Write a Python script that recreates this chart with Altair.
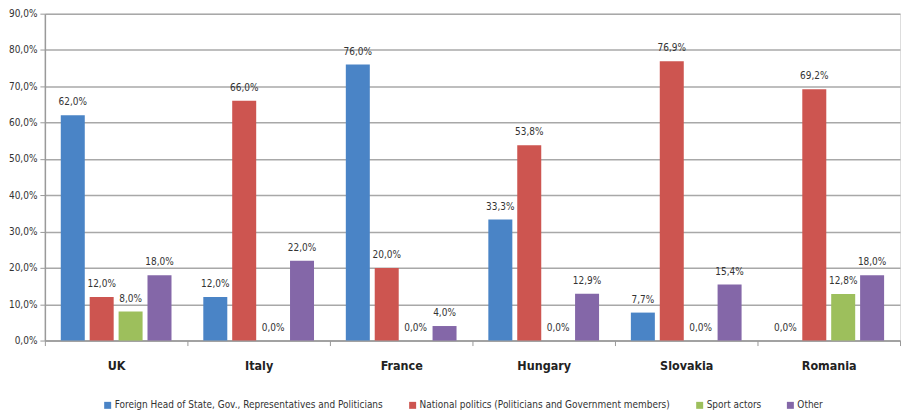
import altair as alt
import pandas as pd

countries = ["UK", "Italy", "France", "Hungary", "Slovakia", "Romania"]
series = [
    "Foreign Head of State, Gov., Representatives and Politicians",
    "National politics (Politicians and Government members)",
    "Sport actors",
    "Other",
]
foreign = [62.0, 12.0, 76.0, 33.3, 7.7, 0.0]
national = [12.0, 66.0, 20.0, 53.8, 76.9, 69.2]
sport = [8.0, 0.0, 0.0, 0.0, 0.0, 12.8]
other = [18.0, 22.0, 4.0, 12.9, 15.4, 18.0]
colors = ["#4a84c6", "#cd5550", "#9dbf5c", "#8467a8"]
y_ticks = [0, 10, 20, 30, 40, 50, 60, 70, 80, 90]

rows = []
for i, c in enumerate(countries):
    for s, vals in zip(series, [foreign, national, sport, other]):
        rows.append({"country": c, "series": s, "value": vals[i]})
df = pd.DataFrame(rows)

font = "DejaVu Sans Condensed, DejaVu Sans, sans-serif"

x = alt.X(
    "country:N",
    sort=countries,
    scale=alt.Scale(paddingInner=0, paddingOuter=0),
    axis=alt.Axis(
        title=None,
        labelAngle=0,
        labelFont=font,
        labelFontWeight="bold",
        labelFontSize=12.5,
        labelColor="#222222",
        labelPadding=14,
        tickBand="extent",
        tickSize=5,
        tickColor="#999999",
        domainColor="#9a9a9a",
        domainWidth=1.5,
        grid=False,
    ),
)
xo = alt.XOffset(
    "series:N", sort=series, scale=alt.Scale(paddingInner=0.17, paddingOuter=0.55)
)
y = alt.Y(
    "value:Q",
    scale=alt.Scale(domain=[0, 90], nice=False),
    axis=alt.Axis(
        title=None,
        values=y_ticks,
        labelExpr="replace(format(datum.value, '.1f'), '.', ',') + '%'",
        labelFont=font,
        labelFontSize=10,
        labelColor="#333333",
        labelPadding=3,
        tickSize=5,
        tickColor="#999999",
        domainColor="#9a9a9a",
        domainWidth=1.5,
        gridColor="#a8a8a8",
        gridWidth=1.5,
    ),
)
color = alt.Color(
    "series:N",
    sort=series,
    scale=alt.Scale(domain=series, range=colors),
    legend=alt.Legend(
        title=None,
        orient="none",
        legendX=58,
        legendY=388,
        direction="horizontal",
        symbolType="square",
        symbolSize=49,
        symbolStrokeWidth=0,
        labelFont=font,
        labelFontSize=10,
        labelColor="#333333",
        labelOffset=2,
        labelLimit=500,
        columnPadding=24,
    ),
)

base = alt.Chart(df)
bars = base.mark_bar().encode(x=x, xOffset=xo, y=y, color=color)
labels = (
    base.transform_calculate(
        label="replace(format(datum.value, '.1f'), '.', ',') + '%'"
    )
    .mark_text(font=font, fontSize=10, color="#333333", baseline="alphabetic", dy=-10)
    .encode(x=x, xOffset=xo, y=y, text="label:N")
)

chart = (
    alt.layer(bars, labels)
    .properties(width=858, height=328, padding={"left": 0, "top": 0, "right": 0, "bottom": 0})
    .configure_view(fill="#ebebeb", stroke=None)
    .configure(background="white")
)

chart.save("out.html", embed_options={"renderer": "svg", "actions": False})
